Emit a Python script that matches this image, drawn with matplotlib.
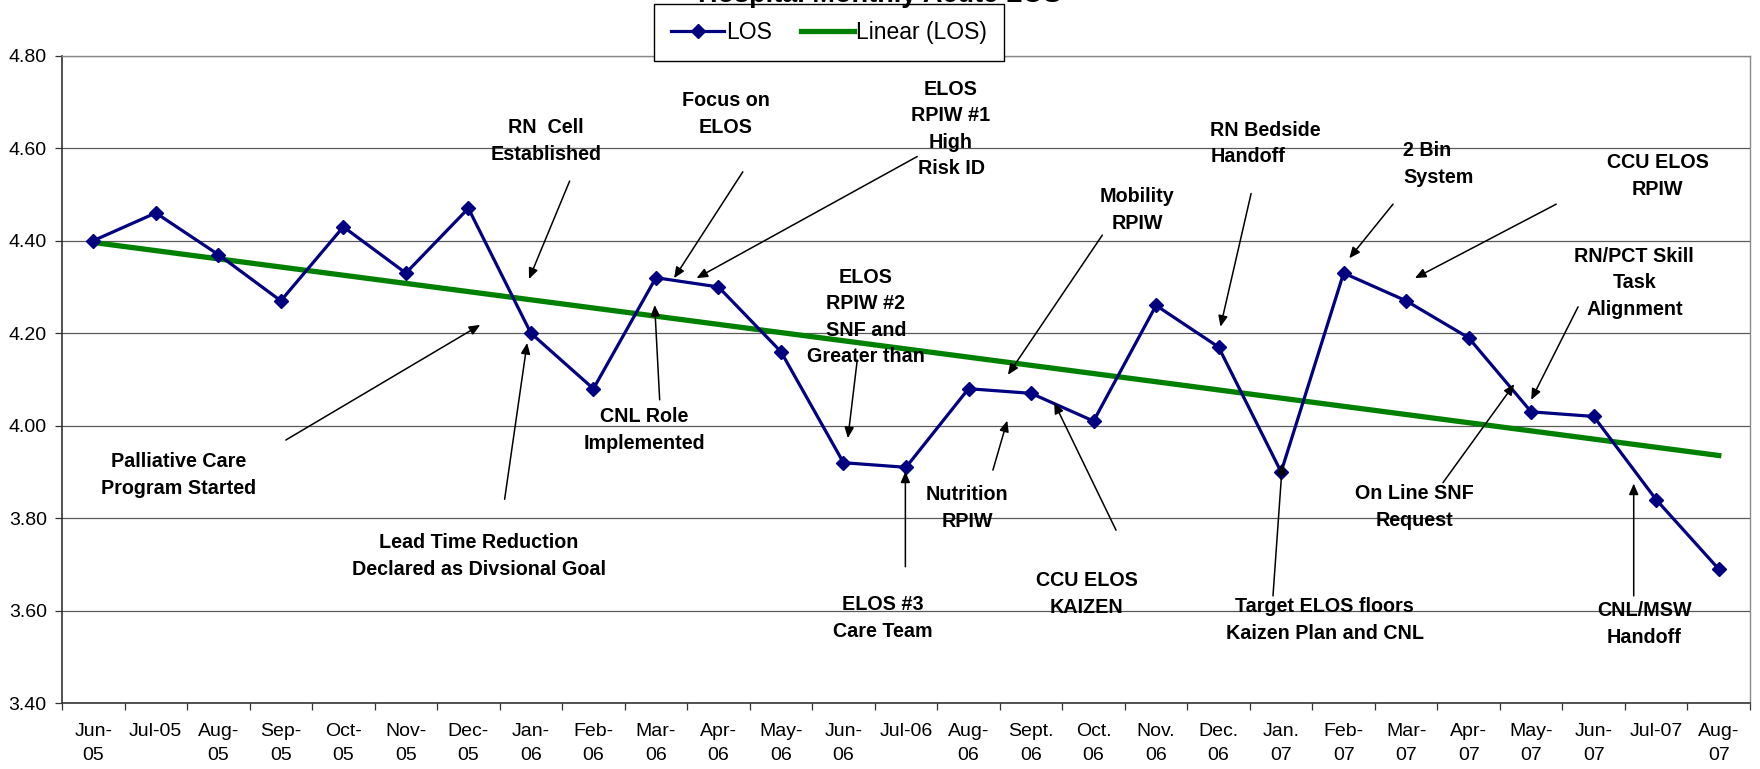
import numpy as np
import matplotlib
matplotlib.use("Agg")
import matplotlib.pyplot as plt

plt.rcParams['font.family'] = ['Liberation Sans', 'DejaVu Sans']

months = ["Jun-\n05", "Jul-05", "Aug-\n05", "Sep-\n05", "Oct-\n05", "Nov-\n05",
          "Dec-\n05", "Jan-\n06", "Feb-\n06", "Mar-\n06", "Apr-\n06", "May-\n06",
          "Jun-\n06", "Jul-06", "Aug-\n06", "Sept.\n06", "Oct.\n06", "Nov.\n06",
          "Dec.\n06", "Jan.\n07", "Feb-\n07", "Mar-\n07", "Apr-\n07", "May-\n07",
          "Jun-\n07", "Jul-07", "Aug-\n07"]
los = [4.40, 4.46, 4.37, 4.27, 4.43, 4.33, 4.47, 4.20, 4.08, 4.32, 4.30, 4.16,
       3.92, 3.91, 4.08, 4.07, 4.01, 4.26, 4.17, 3.90, 4.33, 4.27, 4.19, 4.03,
       4.02, 3.84, 3.69]
y_ticks = [3.40, 3.60, 3.80, 4.00, 4.20, 4.40, 4.60, 4.80]

# (label, text x, text y, arrow tail, arrow head, alignment) in month index / LOS units
notes = [
    ("Palliative Care\nProgram Started", 1.37, 3.893, (3.08, 3.969), (6.19, 4.218), "center"),
    ("Lead Time Reduction\nDeclared as Divsional Goal", 6.17, 3.718, (6.58, 3.841), (6.94, 4.179), "center"),
    ("RN  Cell\nEstablished", 7.24, 4.616, (7.62, 4.529), (6.97, 4.317), "center"),
    ("Focus on\nELOS", 10.12, 4.674, (10.39, 4.549), (9.29, 4.319), "center"),
    ("ELOS\nRPIW #1\nHigh\nRisk ID", 13.72, 4.642, (13.18, 4.582), (9.65, 4.319), "center"),
    ("CNL Role\nImplemented", 8.81, 3.991, (9.06, 4.056), (8.98, 4.261), "center"),
    ("ELOS\nRPIW #2\nSNF and\nGreater than", 12.36, 4.235, (12.22, 4.142), (12.07, 3.973), "center"),
    ("ELOS #3\nCare Team", 12.63, 3.584, (12.99, 3.695), (12.99, 3.901), "center"),
    ("Nutrition\nRPIW", 13.98, 3.822, (14.39, 3.904), (14.62, 4.011), "center"),
    ("Mobility\nRPIW", 16.70, 4.466, (16.14, 4.412), (14.63, 4.110), "center"),
    ("CCU ELOS\nKAIZEN", 15.89, 3.636, (16.36, 3.774), (15.37, 4.050), "center"),
    ("RN Bedside\nHandoff", 17.87, 4.610, (18.52, 4.502), (18.03, 4.214), "left"),
    ("2 Bin\nSystem", 20.95, 4.566, (20.79, 4.479), (20.09, 4.362), "left"),
    ("CCU ELOS\nRPIW", 25.02, 4.540, (23.40, 4.479), (21.14, 4.319), "center"),
    ("RN/PCT Skill\nTask\nAlignment", 24.65, 4.309, (23.75, 4.257), (23.00, 4.056), "center"),
    ("On Line SNF\nRequest", 21.13, 3.824, (21.59, 3.877), (22.73, 4.090), "center"),
    ("Target ELOS floors\nKaizen Plan and CNL", 19.70, 3.580, (18.87, 3.632), (19.02, 3.919), "center"),
    ("CNL/MSW\nHandoff", 24.81, 3.571, (24.64, 3.632), (24.64, 3.875), "center"),
]

x = np.arange(len(los))
slope, intercept = np.polyfit(x, los, 1)
trend = slope * x + intercept

fig = plt.figure(figsize=(17.6, 7.69), dpi=100)
ax = fig.add_axes([62 / 1760, 1 - 703.2 / 769, 1688 / 1760, 647.5 / 769])

ax.plot(x, los, color='#000080', lw=2.3, marker='D', markersize=7,
        label='LOS', zorder=4)
ax.plot(x, trend, color='#008000', lw=3.8, label='Linear (LOS)', zorder=3)

ax.set_xlim(-0.5, len(los) - 0.5)
ax.set_ylim(3.40, 4.80)
ax.set_yticks(y_ticks)
ax.set_yticklabels(["%.2f" % v for v in y_ticks], fontsize=14)
ax.yaxis.grid(True, color='#5a5a5a', lw=0.9)
ax.set_axisbelow(True)

ax.set_xticks(np.arange(len(los) + 1) - 0.5)
ax.set_xticklabels([])
ax.set_xticks(x, minor=True)
ax.set_xticklabels(months, minor=True, fontsize=14, linespacing=1.6)
ax.tick_params(axis='x', which='major', length=5, width=0.9, color='#333333', direction='out')
ax.tick_params(axis='x', which='minor', length=0, pad=14)
ax.tick_params(axis='y', length=5, width=0.9, color='#333333', pad=6)

for side in ['left', 'bottom']:
    ax.spines[side].set_color('#333333')
    ax.spines[side].set_linewidth(1.2)
for side in ['right', 'top']:
    ax.spines[side].set_color('#8a8a8a')
    ax.spines[side].set_linewidth(1.0)

for label, tx, ty, tail, head, align in notes:
    ax.annotate('', xy=head, xytext=tail,
                arrowprops=dict(arrowstyle='-|>,head_length=0.65,head_width=0.28',
                                mutation_scale=10, color='black', lw=1.1,
                                shrinkA=0, shrinkB=0), zorder=5)
    ax.text(tx, ty, label, ha=align, va='center', multialignment=align,
            fontsize=14.2, fontweight='bold', linespacing=1.5, zorder=5)

fig.text(0.5, 1 - 2 / 769, "Hospital Monthly Acute LOS", ha='center', va='baseline',
         fontsize=19.5, fontweight='bold')

leg = ax.legend(loc='upper left', bbox_to_anchor=(654 / 1760, 1 - 4 / 769),
                bbox_transform=fig.transFigure, ncol=2, fontsize=16.5,
                frameon=True, fancybox=False, framealpha=1, edgecolor='black',
                borderaxespad=0, handlelength=2.3, columnspacing=1.28,
                handletextpad=0.1, borderpad=0.75)
leg.get_frame().set_linewidth(1.0)
leg.set_zorder(10)

fig.savefig('out.png', dpi=100)
